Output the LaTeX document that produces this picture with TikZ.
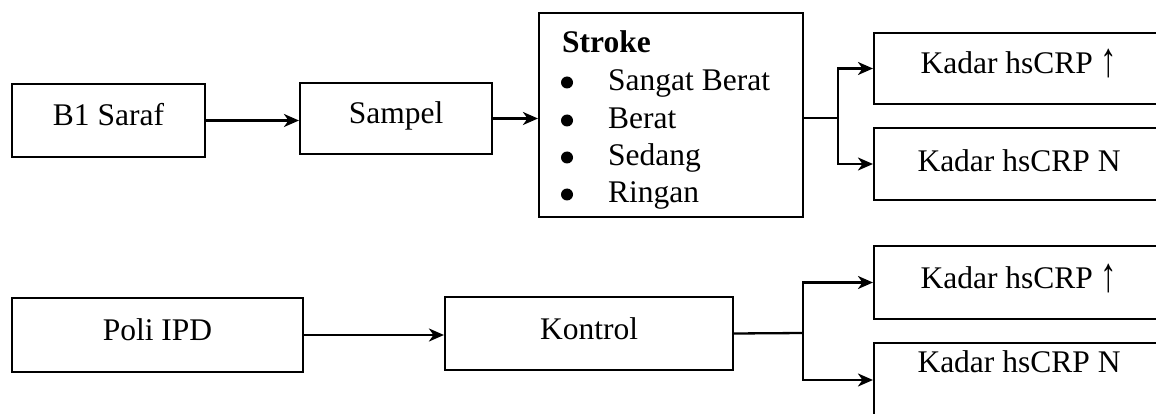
\documentclass[tikz,border=0pt]{standalone}
\usepackage{fontspec}
\usepackage{graphicx}
\setmainfont{Liberation Serif}
\usetikzlibrary{arrows.meta}
% tall thin up arrow as set in the labels
\newcommand{\uparr}{\raisebox{-3pt}{\scalebox{1.05}[1.55]{↑}}}
\begin{document}
\begin{tikzpicture}[x=1pt, y=-1pt,
  every node/.style={font=\fontsize{31.5}{37}\selectfont},
  box/.style={draw, line width=2.1pt, inner sep=0pt, align=center,
              text height=21pt, text depth=10pt},
  item/.style={anchor=base west, inner sep=0pt},
  dot/.style={fill=black},
  link/.style={line width=2.3pt},
  arr/.style={line width=2.3pt, -{Stealth[length=15pt, width=13pt, inset=4.5pt]}}]
\useasboundingbox (0,0) rectangle (1156,414);
\clip (0,0) rectangle (1156,414);

% upper chain
\node[box, minimum width=193pt, minimum height=73pt] (saraf) at (108.5,120.5) {B1 Saraf};
\node[box, minimum width=192pt, minimum height=71pt] (sampel) at (396,118.5) {Sampel};
\node[box, minimum width=264pt, minimum height=204pt] (stroke) at (671,115) {};
\node[item] (s0) at (562,53) {\textbf{Stroke}};
\node[item] (s1) at (608,91) {Sangat Berat};
\node[item] (s2) at (608,129) {Berat};
\node[item] (s3) at (608,166) {Sedang};
\node[item] (s4) at (608,203) {Ringan};
% list bullets, centred a little above each baseline
\foreach \n in {1,...,4}
  \fill[dot] (s\n.base west) ++(-41pt,8.5pt) circle (6pt);
\node[box, minimum width=290pt, minimum height=71pt] (k1) at (1019,68.5) {Kadar hsCRP \uparr};
\node[box, minimum width=290pt, minimum height=72pt, text depth=6pt] (k2) at (1019,164) {Kadar hsCRP N};

% lower chain
\node[box, minimum width=291pt, minimum height=74pt] (poli) at (157.5,335) {Poli IPD};
\node[box, minimum width=288pt, minimum height=73pt] (kontrol) at (589,333.5) {Kontrol};
\node[box, minimum width=290pt, minimum height=73pt] (k3) at (1019,282.5) {Kadar hsCRP \uparr};
\node[box, minimum width=290pt, minimum height=74pt, text depth=37pt] (k4) at (1019,380) {Kadar hsCRP N};

% branch points
\coordinate (fork1) at (838,118);
\coordinate (fork2) at (803,333);

% connectors
\draw[arr] (saraf.east) -- (saraf.east -| sampel.west);
\draw[arr] (sampel.east) -- (sampel.east -| stroke.west);
\draw[link] (stroke.east |- fork1) -- (fork1);
\draw[arr] (fork1) |- (k1.west);
\draw[arr] (fork1) |- (k2.west);

\draw[arr] (poli.east) -- (poli.east -| kontrol.west);
\draw[link] (kontrol.east) -- (fork2);
\draw[arr] (fork2) |- (k3.west);
\draw[arr] (fork2) |- (k4.west);
\end{tikzpicture}
\end{document}
